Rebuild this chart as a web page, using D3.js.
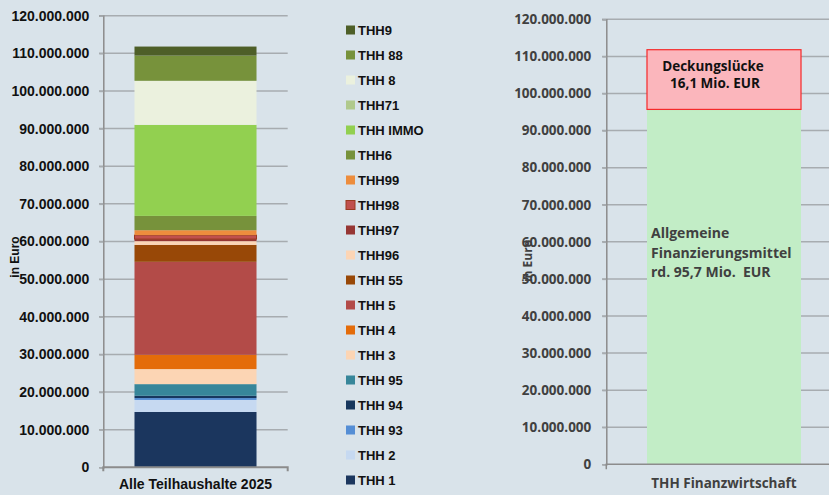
<!DOCTYPE html>
<html>
<head>
<meta charset="utf-8">
<script src="https://cdn.jsdelivr.net/npm/d3@7"></script>
<style>
body { margin: 0; background: #d9e3ea; }
svg { display: block; }
</style>
</head>
<body>
<svg id="chart" width="829" height="495"></svg>
<script>
// Teilhaushalte, von unten nach oben gestapelt (Werte in Mio. EUR)
var teilhaushalte = ["THH 1","THH 2","THH 93","THH 94","THH 95","THH 3","THH 4","THH 5","THH 55","THH96",
                     "THH97","THH98","THH99","THH6","THH IMMO","THH71","THH 8","THH 88","THH9"];
var betraegeMio = [14.7, 3.2, 0.5, 0.6, 3.1, 4.0, 3.8, 24.7, 4.5, 1.0,
                   0.55, 1.05, 1.3, 3.8, 24.2, 0, 11.7, 6.7, 2.4];
var farben = ["#1b365e","#c6d9f1","#558ed5","#17375e","#37869a","#fcd5b4","#e46c0a","#b34b48","#984807","#fcd5b5",
              "#963634","#c0504d","#ed8d3d","#77923b","#92d050","#b0c98c","#ebf1de","#77923b","#4e5f28"];
var kategorieLinks = "Alle Teilhaushalte 2025";

// Finanzwirtschaft (Werte in Mio. EUR)
var finanzTeile = ["Allgemeine Finanzierungsmittel","Deckungslücke"];
var finanzWerteMio = [95.7, 16.1];
var kategorieRechts = "THH Finanzwirtschaft";

var yTicks = [0, 10e6, 20e6, 30e6, 40e6, 50e6, 60e6, 70e6, 80e6, 90e6, 100e6, 110e6, 120e6];

var de = d3.formatLocale({decimal: ",", thousands: ".", grouping: [3], currency: ["", " €"]});
var fmt = de.format(",");

var svg = d3.select("#chart");
svg.append("rect").attr("width", 829).attr("height", 495).attr("fill", "#d9e3ea");

// ---------- linker Stapel ----------
var row = {kat: kategorieLinks};
teilhaushalte.forEach(function(k, i) { row[k] = betraegeMio[i] * 1e6; });
var stack = d3.stack().keys(teilhaushalte)([row]);

var yL = d3.scaleLinear().domain([0, 120e6]).range([467.3, 15.7]);
var xL = d3.scaleBand().domain([kategorieLinks]).range([103.3, 287.7]).padding(0.2036);

var gL = svg.append("g").attr("class", "links");
gL.append("g").selectAll("line")
    .data(yTicks.slice(1))
    .enter().append("line")
    .attr("x1", 99).attr("x2", 287.7)
    .attr("y1", function(d) { return yL(d); })
    .attr("y2", function(d) { return yL(d); })
    .attr("stroke", "#a7acb0").attr("stroke-width", 1.5);

gL.append("g").selectAll("rect")
    .data(stack)
    .enter().append("rect")
    .attr("x", xL(kategorieLinks))
    .attr("width", xL.bandwidth())
    .attr("y", function(d) { return yL(d[0][1]); })
    .attr("height", function(d) { return yL(d[0][0]) - yL(d[0][1]); })
    .attr("fill", function(d, i) { return farben[i]; })
    .attr("stroke", function(d) { return d.key == "THH98" ? "#9a3a20" : "none"; })
    .attr("stroke-width", 1);

var axL = gL.append("g")
    .attr("transform", "translate(103.3,0)")
    .call(d3.axisLeft(yL).tickValues(yTicks).tickFormat(fmt).tickSize(4).tickPadding(10));
axL.select(".domain").attr("stroke", "#8c8c8c").attr("stroke-width", 1.5);
axL.selectAll(".tick line").attr("stroke", "#a7acb0").attr("stroke-width", 1.5);
axL.selectAll("text").attr("font-family", "Liberation Sans, Arial, sans-serif")
    .attr("font-weight", "bold").attr("font-size", 14).attr("fill", "#111");

var axLx = gL.append("g")
    .attr("transform", "translate(0,467.3)")
    .call(d3.axisBottom(xL).tickSize(0).tickPadding(12));
axLx.select(".domain").attr("d", "M103.3,4V0H287.7V4").attr("stroke", "#8c8c8c").attr("stroke-width", 2).attr("fill", "none");
axLx.selectAll("text").attr("font-family", "Liberation Sans, Arial, sans-serif")
    .attr("font-weight", "bold").attr("font-size", 14).attr("fill", "#111");

gL.append("text")
    .text("in Euro")
    .attr("transform", "translate(19,257) rotate(-90)")
    .attr("text-anchor", "middle")
    .attr("font-family", "Liberation Sans, Arial, sans-serif")
    .attr("font-weight", "bold").attr("font-size", 12).attr("fill", "#111");

// Legende
var legende = teilhaushalte.slice().reverse();
var farbenLeg = farben.slice().reverse();
var gLeg = svg.append("g").attr("class", "legende");
var eintrag = gLeg.selectAll("g")
    .data(legende)
    .enter().append("g")
    .attr("transform", function(d, i) { return "translate(346," + (30 + i * 25) + ")"; });
eintrag.append("rect")
    .attr("x", 0).attr("y", -4.5).attr("width", 9).attr("height", 9)
    .attr("fill", function(d, i) { return farbenLeg[i]; })
    .attr("stroke", function(d) { return d == "THH98" ? "#9a3a20" : "none"; });
eintrag.append("text")
    .text(function(d) { return d; })
    .attr("x", 12).attr("dy", "0.36em")
    .attr("font-family", "Liberation Sans, Arial, sans-serif")
    .attr("font-weight", "bold").attr("font-size", 13).attr("fill", "#111");

// ---------- rechte Säule ----------
var yR = d3.scaleLinear().domain([0, 120e6]).range([464.3, 19.3]);
var xR = d3.scaleBand().domain([kategorieRechts]).range([606.3, 841.7]).padding(0.209);
var finanzStack = d3.stack().keys(finanzTeile)([{
    kat: kategorieRechts,
    "Allgemeine Finanzierungsmittel": finanzWerteMio[0] * 1e6,
    "Deckungslücke": finanzWerteMio[1] * 1e6
}]);

var gR = svg.append("g").attr("class", "rechts");
gR.append("g").selectAll("line")
    .data(yTicks.slice(1))
    .enter().append("line")
    .attr("x1", 602).attr("x2", 829)
    .attr("y1", function(d) { return yR(d); })
    .attr("y2", function(d) { return yR(d); })
    .attr("stroke", "#a7acb0").attr("stroke-width", 1.5);

gR.append("g").selectAll("rect")
    .data(finanzStack)
    .enter().append("rect")
    .attr("x", xR(kategorieRechts))
    .attr("width", xR.bandwidth())
    .attr("y", function(d) { return yR(d[0][1]); })
    .attr("height", function(d) { return yR(d[0][0]) - yR(d[0][1]); })
    .attr("fill", function(d, i) { return i == 0 ? "#c2edc6" : "#fbb6bc"; })
    .attr("stroke", function(d, i) { return i == 0 ? "none" : "#f52a2a"; })
    .attr("stroke-width", 1.2);

var axR = gR.append("g")
    .attr("transform", "translate(606.3,0)")
    .call(d3.axisLeft(yR).tickValues(yTicks).tickFormat(fmt).tickSize(4).tickPadding(11));
axR.select(".domain").attr("stroke", "#8c8c8c").attr("stroke-width", 1.5);
axR.selectAll(".tick line").attr("stroke", "#a7acb0").attr("stroke-width", 1.5);
axR.selectAll("text").attr("font-family", "Open Sans, sans-serif")
    .attr("font-weight", "bold").attr("font-size", 13.5).attr("fill", "#404040");

var axRx = gR.append("g")
    .attr("transform", "translate(0,464.3)")
    .call(d3.axisBottom(xR).tickSize(0).tickPadding(14));
axRx.select(".domain").attr("d", "M606.3,5V0H829").attr("stroke", "#8c8c8c").attr("stroke-width", 1.5).attr("fill", "none");
axRx.selectAll("text").attr("font-family", "Open Sans, sans-serif")
    .attr("font-weight", "bold").attr("font-size", 13.5).attr("fill", "#404040");

gR.append("text")
    .text("in Euro")
    .attr("transform", "translate(532,261) rotate(-90)")
    .attr("text-anchor", "middle")
    .attr("font-family", "Open Sans, sans-serif")
    .attr("font-weight", "bold").attr("font-size", 12).attr("fill", "#404040");

// Beschriftungen in der Säule
var luecke = finanzStack[1][0];
var lueckeText = gR.append("text")
    .attr("text-anchor", "middle")
    .attr("font-family", "Open Sans, sans-serif")
    .attr("font-weight", "bold").attr("font-size", 13.5).attr("fill", "#111");
lueckeText.append("tspan").attr("x", 713).attr("y", yR(luecke[1]) + 21).text("Deckungslücke");
lueckeText.append("tspan").attr("x", 715).attr("y", yR(luecke[1]) + 38).text("16,1 Mio. EUR");

var allgText = gR.append("text")
    .attr("font-family", "Open Sans, sans-serif")
    .attr("font-weight", "bold").attr("font-size", 14).attr("fill", "#404040");
["Allgemeine", "Finanzierungsmittel", "rd. 95,7 Mio.  EUR"].forEach(function(t, i) {
    allgText.append("tspan").attr("x", 651).attr("y", 238 + i * 19.5).attr("xml:space", "preserve").text(t);
});
</script>
</body>
</html>
